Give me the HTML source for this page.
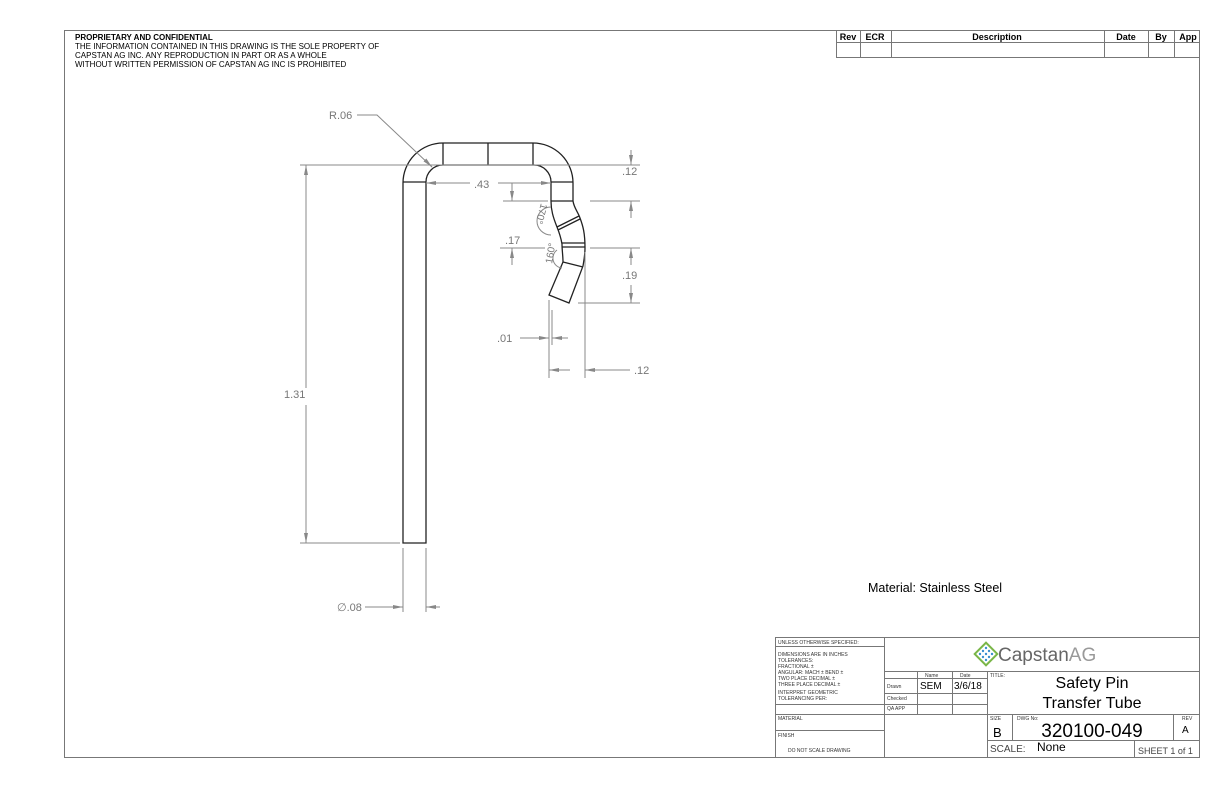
<!DOCTYPE html>
<html><head><meta charset="utf-8"><style>
html,body{margin:0;padding:0;background:#fff;}
svg{display:block;font-family:"Liberation Sans",sans-serif;}
</style></head><body>
<svg width="1224" height="792" viewBox="0 0 1224 792" xmlns="http://www.w3.org/2000/svg">
<defs>
<marker id="a" viewBox="0 0 10 6" refX="10" refY="3" markerWidth="10" markerHeight="6" orient="auto" markerUnits="userSpaceOnUse"><path d="M0,1 L10,3 L0,5z" fill="#888"/></marker>
</defs>
<!-- frame -->
<rect x="64.5" y="30.5" width="1135" height="727" fill="none" stroke="#777" stroke-width="1"/>
<text font-size="8" fill="#000"><tspan x="75" y="40" font-weight="bold">PROPRIETARY AND CONFIDENTIAL</tspan><tspan x="75" y="49">THE INFORMATION CONTAINED IN THIS DRAWING IS THE SOLE PROPERTY OF</tspan><tspan x="75" y="58">CAPSTAN AG INC. ANY REPRODUCTION IN PART OR AS A WHOLE</tspan><tspan x="75" y="67">WITHOUT WRITTEN PERMISSION OF CAPSTAN AG INC IS PROHIBITED</tspan></text>
<!-- rev table -->
<g stroke="#777" fill="none" stroke-width="1">
<rect x="836.5" y="30.5" width="363" height="27"/>
<line x1="836" y1="42.5" x2="1199" y2="42.5"/>
<line x1="860.5" y1="30" x2="860.5" y2="57"/><line x1="891.5" y1="30" x2="891.5" y2="57"/>
<line x1="1104.5" y1="30" x2="1104.5" y2="57"/><line x1="1148.5" y1="30" x2="1148.5" y2="57"/><line x1="1174.5" y1="30" x2="1174.5" y2="57"/>
</g>
<g font-size="9" font-weight="bold" text-anchor="middle"><text x="848" y="40">Rev</text><text x="875" y="40">ECR</text><text x="997" y="40">Description</text><text x="1126" y="40">Date</text><text x="1161" y="40">By</text><text x="1188" y="40">App</text></g>
<!-- part -->
<g stroke="#222" fill="none" stroke-width="1.3">
<path d="M403,543 L403,183 A40,40 0 0 1 443,143 L533,143 A40,40 0 0 1 573,183 L573,201 C574,208 578,212 580,218 C583,226 585,233 585,248 C585,255 584,260 583,266 L569,303 L549,295 L563,262 C563,256 562,250 562,244 C561,238 559,232 557,227 C553,217 551,210 551,201 L551,182 A17,17 0 0 0 534,165 L443,165 A17,17 0 0 0 426,182 L426,543 Z"/>
<line x1="443" y1="143" x2="443" y2="165"/><line x1="488" y1="143" x2="488" y2="165"/><line x1="533" y1="143" x2="533" y2="165"/>
<line x1="403" y1="182" x2="426" y2="182"/><line x1="551" y1="182" x2="573" y2="182"/><line x1="551" y1="201" x2="573" y2="201"/>
<line x1="557" y1="227" x2="579" y2="216"/><line x1="558" y1="230" x2="580" y2="219"/>
<line x1="562" y1="243" x2="585" y2="243"/><line x1="562" y1="247" x2="585" y2="247"/>
<line x1="563" y1="262" x2="583" y2="267"/>
</g>
<!-- dimensions -->
<g stroke="#888" fill="none" stroke-width="1">
<line x1="300" y1="165" x2="640" y2="165"/><line x1="300" y1="543" x2="400" y2="543"/>
<line x1="306" y1="388" x2="306" y2="165" marker-end="url(#a)"/><line x1="306" y1="405" x2="306" y2="543" marker-end="url(#a)"/>
<line x1="590" y1="201" x2="640" y2="201"/><line x1="503" y1="201" x2="548" y2="201"/>
<line x1="631" y1="150" x2="631" y2="165" marker-end="url(#a)"/><line x1="631" y1="218" x2="631" y2="201" marker-end="url(#a)"/>
<line x1="470" y1="183" x2="426" y2="183" marker-end="url(#a)"/><line x1="498" y1="183" x2="551" y2="183" marker-end="url(#a)"/>
<line x1="512" y1="183" x2="512" y2="201" marker-end="url(#a)"/><line x1="512" y1="265" x2="512" y2="248" marker-end="url(#a)"/>
<line x1="500" y1="248" x2="545" y2="248"/>
<line x1="590" y1="248" x2="640" y2="248"/><line x1="578" y1="303" x2="640" y2="303"/>
<line x1="631" y1="265" x2="631" y2="248" marker-end="url(#a)"/><line x1="631" y1="285" x2="631" y2="303" marker-end="url(#a)"/>
<line x1="549" y1="300" x2="549" y2="378"/><line x1="585" y1="252" x2="585" y2="378"/>
<line x1="520" y1="338" x2="549" y2="338" marker-end="url(#a)"/><line x1="568" y1="338" x2="552" y2="338" marker-end="url(#a)"/>
<line x1="552" y1="310" x2="552" y2="345"/>
<line x1="630" y1="370" x2="585" y2="370" marker-end="url(#a)"/><line x1="570" y1="370" x2="549" y2="370" marker-end="url(#a)"/>
<line x1="403" y1="548" x2="403" y2="612"/><line x1="426" y1="548" x2="426" y2="612"/>
<line x1="365" y1="607" x2="403" y2="607" marker-end="url(#a)"/><line x1="440" y1="607" x2="426" y2="607" marker-end="url(#a)"/>
<polyline points="357,115 377,115 432,167" /><path d="M425,160 L432,167" marker-end="url(#a)"/>
<path d="M551,207 A14,14 0 0 0 551,235"/><path d="M557,250 A10,10 0 0 0 562,268"/>
</g>
<g font-size="11" fill="#777">
<text x="329" y="119">R.06</text>
<text x="474" y="188">.43</text>
<text x="622" y="175">.12</text>
<text x="505" y="244">.17</text>
<text x="622" y="279">.19</text>
<text x="497" y="342">.01</text>
<text x="634" y="374">.12</text>
<text x="284" y="398">1.31</text>
<text x="337" y="611">∅.08</text>
<text x="0" y="0" font-size="10" transform="translate(541,203) rotate(105)">170°</text>
<text x="0" y="0" font-size="10" transform="translate(552,264) rotate(-80)">160°</text>
</g>
<text x="868" y="592" font-size="12.5">Material: Stainless Steel</text>
<!-- title block -->
<g stroke="#777" fill="none" stroke-width="1">
<rect x="775.5" y="637.5" width="424" height="120"/>
<line x1="775" y1="646.5" x2="884" y2="646.5"/>
<line x1="884.5" y1="637" x2="884.5" y2="757"/>
<line x1="884" y1="671.5" x2="1199" y2="671.5"/>
<line x1="884" y1="678.5" x2="987" y2="678.5"/>
<line x1="884" y1="693.5" x2="987" y2="693.5"/>
<line x1="884" y1="704.5" x2="987" y2="704.5"/>
<line x1="775" y1="704.5" x2="884" y2="704.5"/>
<line x1="775" y1="714.5" x2="1199" y2="714.5"/>
<line x1="775" y1="730.5" x2="884" y2="730.5"/>
<line x1="917.5" y1="671" x2="917.5" y2="714"/><line x1="952.5" y1="671" x2="952.5" y2="714"/>
<line x1="987.5" y1="671" x2="987.5" y2="757"/>
<line x1="1012.5" y1="714" x2="1012.5" y2="740"/><line x1="1173.5" y1="714" x2="1173.5" y2="740"/>
<line x1="987" y1="740.5" x2="1199" y2="740.5"/>
<line x1="1134.5" y1="740" x2="1134.5" y2="757"/>
</g>
<g font-size="5" fill="#333">
<text x="778" y="644">UNLESS OTHERWISE SPECIFIED:</text>
<text x="778" y="656">DIMENSIONS ARE IN INCHES</text>
<text x="778" y="662">TOLERANCES:</text>
<text x="778" y="668">FRACTIONAL ±</text>
<text x="778" y="674">ANGULAR: MACH ±    BEND ±</text>
<text x="778" y="680">TWO PLACE DECIMAL    ±</text>
<text x="778" y="686">THREE PLACE DECIMAL  ±</text>
<text x="778" y="694">INTERPRET GEOMETRIC</text>
<text x="778" y="700">TOLERANCING PER:</text>
<text x="778" y="720">MATERIAL</text>
<text x="778" y="737">FINISH</text>
<text x="788" y="752">DO NOT SCALE DRAWING</text>
<text x="925" y="677">Name</text><text x="960" y="677">Date</text>
<text x="887" y="688">Drawn</text><text x="887" y="700">Checked</text><text x="887" y="710">QA APP</text>
<text x="990" y="677">TITLE:</text>
<text x="990" y="720">SIZE</text><text x="1017" y="720">DWG No:</text><text x="1182" y="720">REV</text>
</g>
<text x="920" y="689" font-size="10">SEM</text><text x="954" y="689" font-size="10">3/6/18</text>
<text x="1092" y="688" font-size="16" text-anchor="middle">Safety Pin</text>
<text x="1092" y="708" font-size="16" text-anchor="middle">Transfer Tube</text>
<text x="993" y="737" font-size="13">B</text>
<text x="1092" y="737" font-size="19" text-anchor="middle">320100-049</text>
<text x="1182" y="733" font-size="10">A</text>
<text x="990" y="752" font-size="10" fill="#444">SCALE:</text>
<text x="1037" y="751" font-size="12">None</text>
<text x="1138" y="754" font-size="9" fill="#444">SHEET 1 of 1</text>
<!-- logo -->
<g transform="translate(986,654)">
<rect x="-8" y="-8" width="16" height="16" transform="rotate(45)" fill="none" stroke="#7ab648" stroke-width="2"/>
<g fill="#3a8fd0"><circle cx="0" cy="-6" r="1.2"/><circle cx="-3" cy="-3" r="1.2"/><circle cx="3" cy="-3" r="1.2"/><circle cx="-6" cy="0" r="1.2"/><circle cx="0" cy="0" r="1.2"/><circle cx="6" cy="0" r="1.2"/><circle cx="-3" cy="3" r="1.2"/><circle cx="3" cy="3" r="1.2"/><circle cx="0" cy="6" r="1.2"/></g>
</g>
<text x="998" y="661" font-size="19" fill="#666">Capstan<tspan fill="#999">AG</tspan></text>
</svg>
</body></html>
